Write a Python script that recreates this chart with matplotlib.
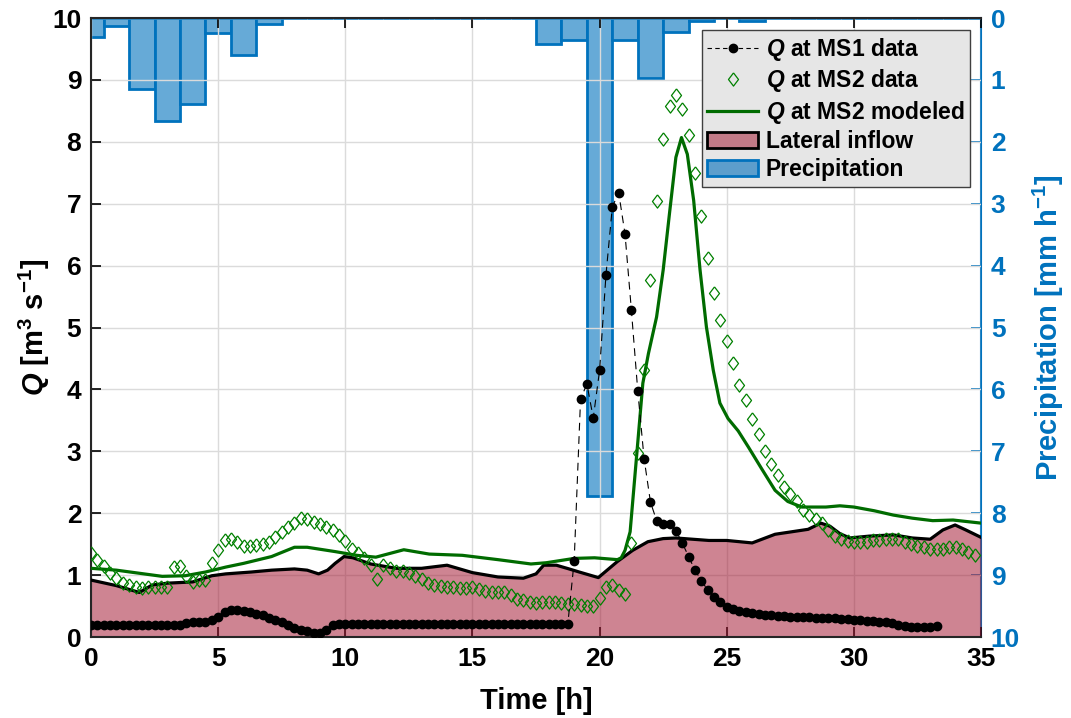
import numpy as np
import matplotlib
matplotlib.use("Agg")
import matplotlib.pyplot as plt
from matplotlib.patches import Patch
from matplotlib.lines import Line2D

plt.rcParams['font.family'] = ['Liberation Sans', 'DejaVu Sans']
plt.rcParams['font.weight'] = 'bold'
plt.rcParams['mathtext.fontset'] = 'custom'
plt.rcParams['mathtext.rm'] = 'Liberation Sans:bold'
plt.rcParams['mathtext.it'] = 'Liberation Sans:bold:italic'
plt.rcParams['mathtext.bf'] = 'Liberation Sans:bold'

# ---------------- data ----------------
# precipitation (mm/h), hourly, centred on each hour
precip_t = list(range(0, 36))
precip_v = [0.30, 0.12, 1.15, 1.67, 1.39, 0.24, 0.60, 0.10, 0, 0,
            0, 0, 0, 0, 0, 0, 0, 0, 0.42, 0.36,
            7.72, 0.36, 0.96, 0.23, 0.04, 0, 0.04, 0, 0, 0,
            0, 0, 0, 0, 0, 0]

# Q at MS1 data, every 0.25 h from 0 to 33.25 h
ms1_q = [0.19, 0.19, 0.19, 0.19, 0.19, 0.19, 0.19, 0.19, 0.19, 0.19,
         0.19, 0.19, 0.19, 0.19, 0.20, 0.22, 0.24, 0.25, 0.25, 0.27,
         0.32, 0.40, 0.43, 0.44, 0.42, 0.40, 0.37, 0.35, 0.31, 0.28,
         0.24, 0.19, 0.14, 0.11, 0.09, 0.07, 0.06, 0.12, 0.19, 0.21,
         0.21, 0.21, 0.21, 0.21, 0.21, 0.21, 0.21, 0.21, 0.21, 0.21,
         0.21, 0.21, 0.21, 0.21, 0.21, 0.21, 0.21, 0.21, 0.21, 0.21,
         0.21, 0.21, 0.21, 0.21, 0.21, 0.21, 0.21, 0.21, 0.21, 0.21,
         0.21, 0.21, 0.21, 0.21, 0.21, 0.21,
         1.23, 3.84, 4.09, 3.54, 4.31, 5.85, 6.95, 7.18, 6.51, 5.28,
         3.98, 2.88, 2.18, 1.87, 1.83, 1.83, 1.72, 1.52, 1.30, 1.08,
         0.91, 0.76, 0.65, 0.57, 0.49,
         0.45, 0.42, 0.40, 0.38, 0.37, 0.36, 0.35, 0.34, 0.34, 0.33,
         0.33, 0.32, 0.32, 0.31, 0.31, 0.30, 0.30, 0.29, 0.29, 0.28,
         0.27, 0.26, 0.26, 0.25, 0.24, 0.23, 0.19, 0.17, 0.16, 0.16,
         0.16, 0.16, 0.17]
ms1_t = [0.25 * i for i in range(len(ms1_q))]

# Q at MS2 data, every 0.25 h from 0 to 34.75 h
ms2_q = [1.35, 1.25, 1.14, 1.03, 0.95, 0.88, 0.84, 0.80, 0.79, 0.81,
         0.81, 0.80, 0.81, 1.13, 1.14, 0.99, 0.89, 0.92, 0.92, 1.19,
         1.41, 1.57, 1.59, 1.54, 1.47, 1.47, 1.49, 1.51, 1.54, 1.62,
         1.69, 1.78, 1.85, 1.92, 1.90, 1.86, 1.83, 1.77, 1.73, 1.65,
         1.55, 1.43, 1.35, 1.27, 1.17, 0.93, 1.16, 1.12, 1.07, 1.06,
         1.03, 0.99, 0.93, 0.87, 0.84, 0.82, 0.81, 0.80, 0.79, 0.79,
         0.80, 0.77, 0.75, 0.73, 0.73, 0.72, 0.68, 0.62, 0.60, 0.57,
         0.55, 0.57, 0.57, 0.57, 0.55, 0.54, 0.53, 0.52, 0.50, 0.50,
         0.63, 0.80, 0.84, 0.76, 0.70, 1.52, 2.97, 4.31, 5.77, 7.04,
         8.04, 8.58, 8.75, 8.53, 8.11, 7.49, 6.81, 6.13, 5.56, 5.13,
         4.78, 4.43, 4.07, 3.83, 3.53, 3.28, 3.01, 2.79, 2.61, 2.43,
         2.31, 2.19, 2.05, 1.97, 1.90, 1.84, 1.73, 1.63, 1.58, 1.55,
         1.54, 1.54, 1.54, 1.56, 1.57, 1.59, 1.59, 1.59, 1.54, 1.51,
         1.47, 1.45, 1.42, 1.42, 1.43, 1.45, 1.45, 1.43, 1.38, 1.32]
ms2_t = [0.25 * i for i in range(len(ms2_q))]

# Q at MS2 modeled
mod_t = [0, 1, 1.9, 2.8, 3.7, 4.5, 5.3, 6.0, 7.1, 8.0, 8.5, 9.6, 10.45, 11.2,
         12.3, 13.3, 14.6, 16.0, 17.3, 17.9, 19.0, 19.8, 20.7, 20.85, 21.0,
         21.2, 21.45, 21.7, 21.92, 22.24, 22.5, 22.75, 23.0, 23.22, 23.45,
         23.7, 23.95, 24.2, 24.47, 24.73, 25.05, 25.45, 25.85, 26.4, 26.9,
         27.4, 27.95, 28.9, 29.45, 30.0, 30.8, 31.55, 32.3, 33.1, 33.9, 35.0]
mod_q = [1.11, 1.08, 1.03, 0.98, 0.99, 1.05, 1.13, 1.19, 1.30, 1.45, 1.45,
         1.38, 1.32, 1.29, 1.41, 1.34, 1.32, 1.25, 1.18, 1.20, 1.27, 1.28,
         1.25, 1.28, 1.40, 1.70, 2.90, 4.10, 4.58, 5.17, 5.93, 6.85, 7.75,
         8.07, 7.80, 7.05, 5.93, 5.01, 4.31, 3.78, 3.53, 3.33, 3.07, 2.70,
         2.37, 2.19, 2.10, 2.10, 2.12, 2.10, 2.04, 1.97, 1.92, 1.88, 1.89,
         1.84]

# Lateral inflow
lat_t = [0, 1, 1.9, 2.4, 3, 4, 4.75, 5.3, 6.3, 7.1, 8.0, 8.5, 8.95, 9.3,
         9.6, 9.95, 10.3, 11.0, 12.0, 13.0, 14.0, 15.0, 16.0, 17.0, 17.5,
         17.8, 18.3, 18.8, 19.2, 19.95, 20.7, 21.3, 21.9, 22.5, 23.0, 24.3,
         25.0, 26.0, 26.9, 28.2, 28.7, 29.06, 29.45, 29.84, 30.6, 31.55,
         32.3, 33.0, 33.5, 33.98, 34.4, 35.0]
lat_q = [0.92, 0.83, 0.72, 0.84, 0.87, 0.89, 0.99, 1.02, 1.05, 1.08, 1.10,
         1.08, 1.02, 1.08, 1.19, 1.30, 1.28, 1.18, 1.11, 1.11, 1.16, 1.04,
         0.97, 0.95, 1.02, 1.16, 1.16, 1.10, 1.05, 0.96, 1.22, 1.40, 1.54,
         1.59, 1.60, 1.56, 1.56, 1.52, 1.66, 1.74, 1.84, 1.79, 1.67, 1.60,
         1.63, 1.65, 1.60, 1.58, 1.73, 1.81, 1.73, 1.61]

# ---------------- style ----------------
BLUE = (0.0, 0.447, 0.741)
BAR_FACE = (0.40, 0.667, 0.843)
GREEN = (0.0, 0.42, 0.0)
MS2_GREEN = (0.0, 0.5, 0.0)
LAT_COLOR = (0.635, 0.078, 0.184)
AXC = (0.15, 0.15, 0.15)
DIAMOND = [(0, 1), (0.76, 0), (0, -1), (-0.76, 0), (0, 1)]

TICK_FS = 19
LABEL_FS = 21

fig = plt.figure(figsize=(10.71, 7.18), dpi=100)
ax = fig.add_axes([0.085, 0.1128, 0.831, 0.862])
ax2 = ax.twinx()
ax.set_zorder(ax2.get_zorder() + 1)
ax.patch.set_visible(False)

# precipitation bars (right axis, inverted)
ax2.bar(precip_t, precip_v, width=1.0, color=BAR_FACE, edgecolor=BLUE,
        linewidth=2.0, zorder=2)
ax2.set_ylim(10, 0)
ax2.set_yticks(range(0, 11))
ax2.tick_params(axis='y', colors=BLUE, direction='in', length=7, width=1.2,
                labelsize=TICK_FS, pad=7)
for lbl in ax2.get_yticklabels():
    lbl.set_fontweight('bold')
ax2.set_ylabel('Precipitation [mm h$^{-1}$]', color=BLUE, fontsize=LABEL_FS,
               fontweight='bold', labelpad=8)
ax2.spines['right'].set_color(BLUE)
ax2.spines['right'].set_linewidth(1.5)
for s in ['left', 'top', 'bottom']:
    ax2.spines[s].set_visible(False)

# main axis
ax.fill_between(lat_t, 0, lat_q, color=LAT_COLOR, alpha=0.52, linewidth=0,
                zorder=1)
ax.plot(lat_t, lat_q, color='black', lw=2.3, zorder=3)
ax.plot(mod_t, mod_q, color=GREEN, lw=2.3, zorder=4)
ax.plot(ms2_t, ms2_q, linestyle='none', marker=DIAMOND, markersize=9.5,
        markerfacecolor='none', markeredgecolor=MS2_GREEN,
        markeredgewidth=0.9, zorder=5)
ax.plot(ms1_t, ms1_q, color='black', lw=0.8, linestyle=(0, (7, 5)),
        marker='o', markersize=6, markerfacecolor='black',
        markeredgecolor='black', zorder=6)

ax.set_xlim(0, 35)
ax.set_ylim(0, 10)
ax.set_xticks(range(0, 36, 5))
ax.set_yticks(range(0, 11))
ax.grid(True, color=(0.86, 0.86, 0.86), linewidth=1.0, zorder=0)
ax.set_axisbelow(True)
ax.tick_params(axis='both', direction='in', length=7, width=1.2,
               labelsize=TICK_FS, colors='black', top=True, right=False,
               pad=7)
for lbl in ax.get_xticklabels() + ax.get_yticklabels():
    lbl.set_fontweight('bold')
for s in ['left', 'bottom', 'top']:
    ax.spines[s].set_color(AXC)
    ax.spines[s].set_linewidth(1.5)
ax.spines['right'].set_visible(False)

ax.set_xlabel('Time [h]', fontsize=LABEL_FS, fontweight='bold', labelpad=12)
ax.set_ylabel('$Q$ [m$^3$ s$^{-1}$]', fontsize=LABEL_FS, fontweight='bold',
              labelpad=0)

handles = [
    Line2D([], [], color='black', lw=0.8, linestyle=(0, (4, 3)), marker='o',
           markersize=6, markerfacecolor='black'),
    Line2D([], [], linestyle='none', marker=DIAMOND, markersize=9.5,
           markerfacecolor='none', markeredgecolor=MS2_GREEN,
           markeredgewidth=0.9),
    Line2D([], [], color=GREEN, lw=2.3),
    Patch(facecolor=(0.76, 0.48, 0.53), edgecolor='black', linewidth=2.0),
    Patch(facecolor=(0.36, 0.62, 0.80), edgecolor=BLUE, linewidth=2.0),
]
labels = ['$Q$ at MS1 data', '$Q$ at MS2 data', '$Q$ at MS2 modeled',
          'Lateral inflow', 'Precipitation']
leg = ax.legend(handles, labels, loc='upper right',
                bbox_to_anchor=(0.988, 0.981), borderaxespad=0,
                fontsize=16.5, frameon=True, fancybox=False,
                facecolor=(0.902, 0.902, 0.902), edgecolor=(0.25, 0.25, 0.25),
                framealpha=1.0, handlelength=2.2, handletextpad=0.35,
                labelspacing=0.2, borderpad=0.25)
leg.get_frame().set_linewidth(1.0)
for t in leg.get_texts():
    t.set_fontweight('bold')

fig.savefig('out.png', dpi=100)
